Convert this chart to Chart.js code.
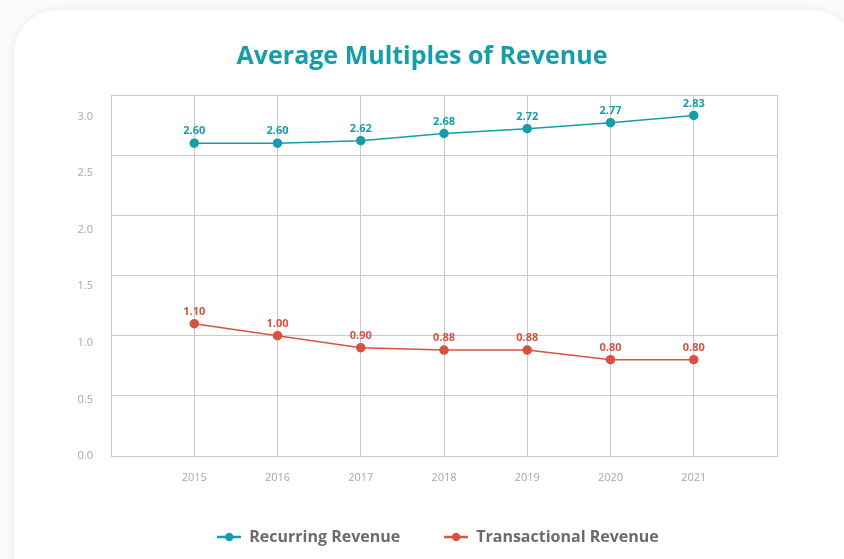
<!DOCTYPE html>
<html><head><meta charset="utf-8">
<script src="https://cdn.jsdelivr.net/npm/chart.js@4/dist/chart.umd.min.js"></script>
<style>
html,body{margin:0;padding:0;background:#fbfbfb;width:844px;height:559px;overflow:hidden;}
#card{position:absolute;left:14px;top:10px;width:842px;height:600px;background:#fff;border-radius:44px;box-shadow:0 0 10px rgba(0,0,0,0.07);}
#wrap{position:absolute;left:0;top:0;width:844px;height:559px;}
</style></head><body>
<div id="card"></div>
<div id="wrap"><canvas id="c" width="844" height="559"></canvas></div>
<script>
const years = [2015, 2016, 2017, 2018, 2019, 2020, 2021];
const recurringRevenue = [2.60, 2.60, 2.62, 2.68, 2.72, 2.77, 2.83];
const transactionalRevenue = [1.10, 1.00, 0.90, 0.88, 0.88, 0.80, 0.80];
const seriesNames = ['Recurring Revenue', 'Transactional Revenue'];
const yTickValues = [0, 0.5, 1.0, 1.5, 2.0, 2.5, 3.0];

const TEAL = '#139ea9';
const RED = '#d9523f';
const GRID = '#c9c9c9';
const FONT = '"Open Sans", Lato, sans-serif';

function marker(color){
  const c = document.createElement('canvas');
  c.width = 24; c.height = 10;
  const g = c.getContext('2d');
  g.strokeStyle = color; g.lineWidth = 2.5;
  g.beginPath(); g.moveTo(0,5); g.lineTo(24,5); g.stroke();
  g.fillStyle = color; g.beginPath(); g.arc(12,5,4.2,0,Math.PI*2); g.fill();
  return c;
}
const markers = [marker(TEAL), marker(RED)];

const valueLabels = {
  id: 'valueLabels',
  afterDatasetsDraw(chart){
    const ctx = chart.ctx;
    chart.data.datasets.forEach((ds, i) => {
      const meta = chart.getDatasetMeta(i);
      ctx.save();
      ctx.font = 'bold 11px ' + FONT;
      ctx.fillStyle = ds.borderColor;
      ctx.textAlign = 'center';
      ctx.textBaseline = 'middle';
      meta.data.forEach((pt, j) => {
        ctx.fillText(ds.data[j].y.toFixed(2), pt.x, pt.y - 12);
      });
      ctx.restore();
    });
  }
};

const legendShift = {
  id: 'legendShift',
  afterLayout(chart){ chart.legend.left += 32; }
};

new Chart(document.getElementById('c'), {
  type: 'line',
  data: {
    datasets: [
      { label: seriesNames[0], data: years.map((y,i)=>({x:y, y:recurringRevenue[i]})),
        borderColor: TEAL, backgroundColor: TEAL, pointBackgroundColor: TEAL, pointBorderColor: TEAL,
        borderWidth: 1.5, pointRadius: 4, tension: 0 },
      { label: seriesNames[1], data: years.map((y,i)=>({x:y, y:transactionalRevenue[i]})),
        borderColor: RED, backgroundColor: RED, pointBackgroundColor: RED, pointBorderColor: RED,
        borderWidth: 1.5, pointRadius: 4, tension: 0 }
    ]
  },
  options: {
    responsive: false,
    animation: false,
    layout: { padding: { top: 0, bottom: 4, left: 0, right: 0 } },
    plugins: {
      title: { display: true, text: 'Average Multiples of Revenue', color: TEAL,
        font: { family: FONT, size: 25, weight: 'bold' }, padding: { top: 42, bottom: 23 } },
      legend: { position: 'bottom',
        labels: { usePointStyle: true, pointStyleWidth: 24, boxHeight: 10, padding: 44,
          color: '#6b6b6b', font: { family: FONT, size: 16, weight: 'bold' },
          generateLabels(chart){
            return Chart.defaults.plugins.legend.labels.generateLabels(chart)
              .map((l,i)=>Object.assign(l, {pointStyle: markers[i]}));
          } } },
      tooltip: { enabled: false }
    },
    scales: {
      x: { type: 'linear', min: 2014, max: 2022,
        grid: { color: GRID, drawTicks: false }, border: { color: GRID },
        ticks: { stepSize: 1, padding: 15, color: '#a8a8a8', font: { family: FONT, size: 11 },
          callback: v => years.includes(v) ? String(v) : '' },
        afterFit(s){ s.height = 29; } },
      y: { min: 0, max: 3, weight: 0,
        grid: { color: GRID, drawTicks: false }, border: { color: GRID },
        ticks: { display: false, stepSize: 0.5 },
        afterFit(s){ s.width = 0; } },
      yLabels: { type: 'linear', position: 'left', min: 0, max: 3.19, weight: 1,
        grid: { display: false, drawTicks: false }, border: { display: false },
        ticks: { stepSize: 0.5, padding: 18, color: '#a8a8a8', font: { family: FONT, size: 11 },
          callback: v => v.toFixed(1) },
        afterBuildTicks(s){ s.ticks = yTickValues.map(v => ({value: v})); },
        afterFit(s){ s.width = 111; } },
      yRight: { type: 'linear', position: 'right',
        grid: { display: false, drawTicks: false }, border: { display: false },
        ticks: { display: false },
        afterFit(s){ s.width = 67; } }
    }
  },
  plugins: [valueLabels, legendShift]
});
</script>
</body></html>
